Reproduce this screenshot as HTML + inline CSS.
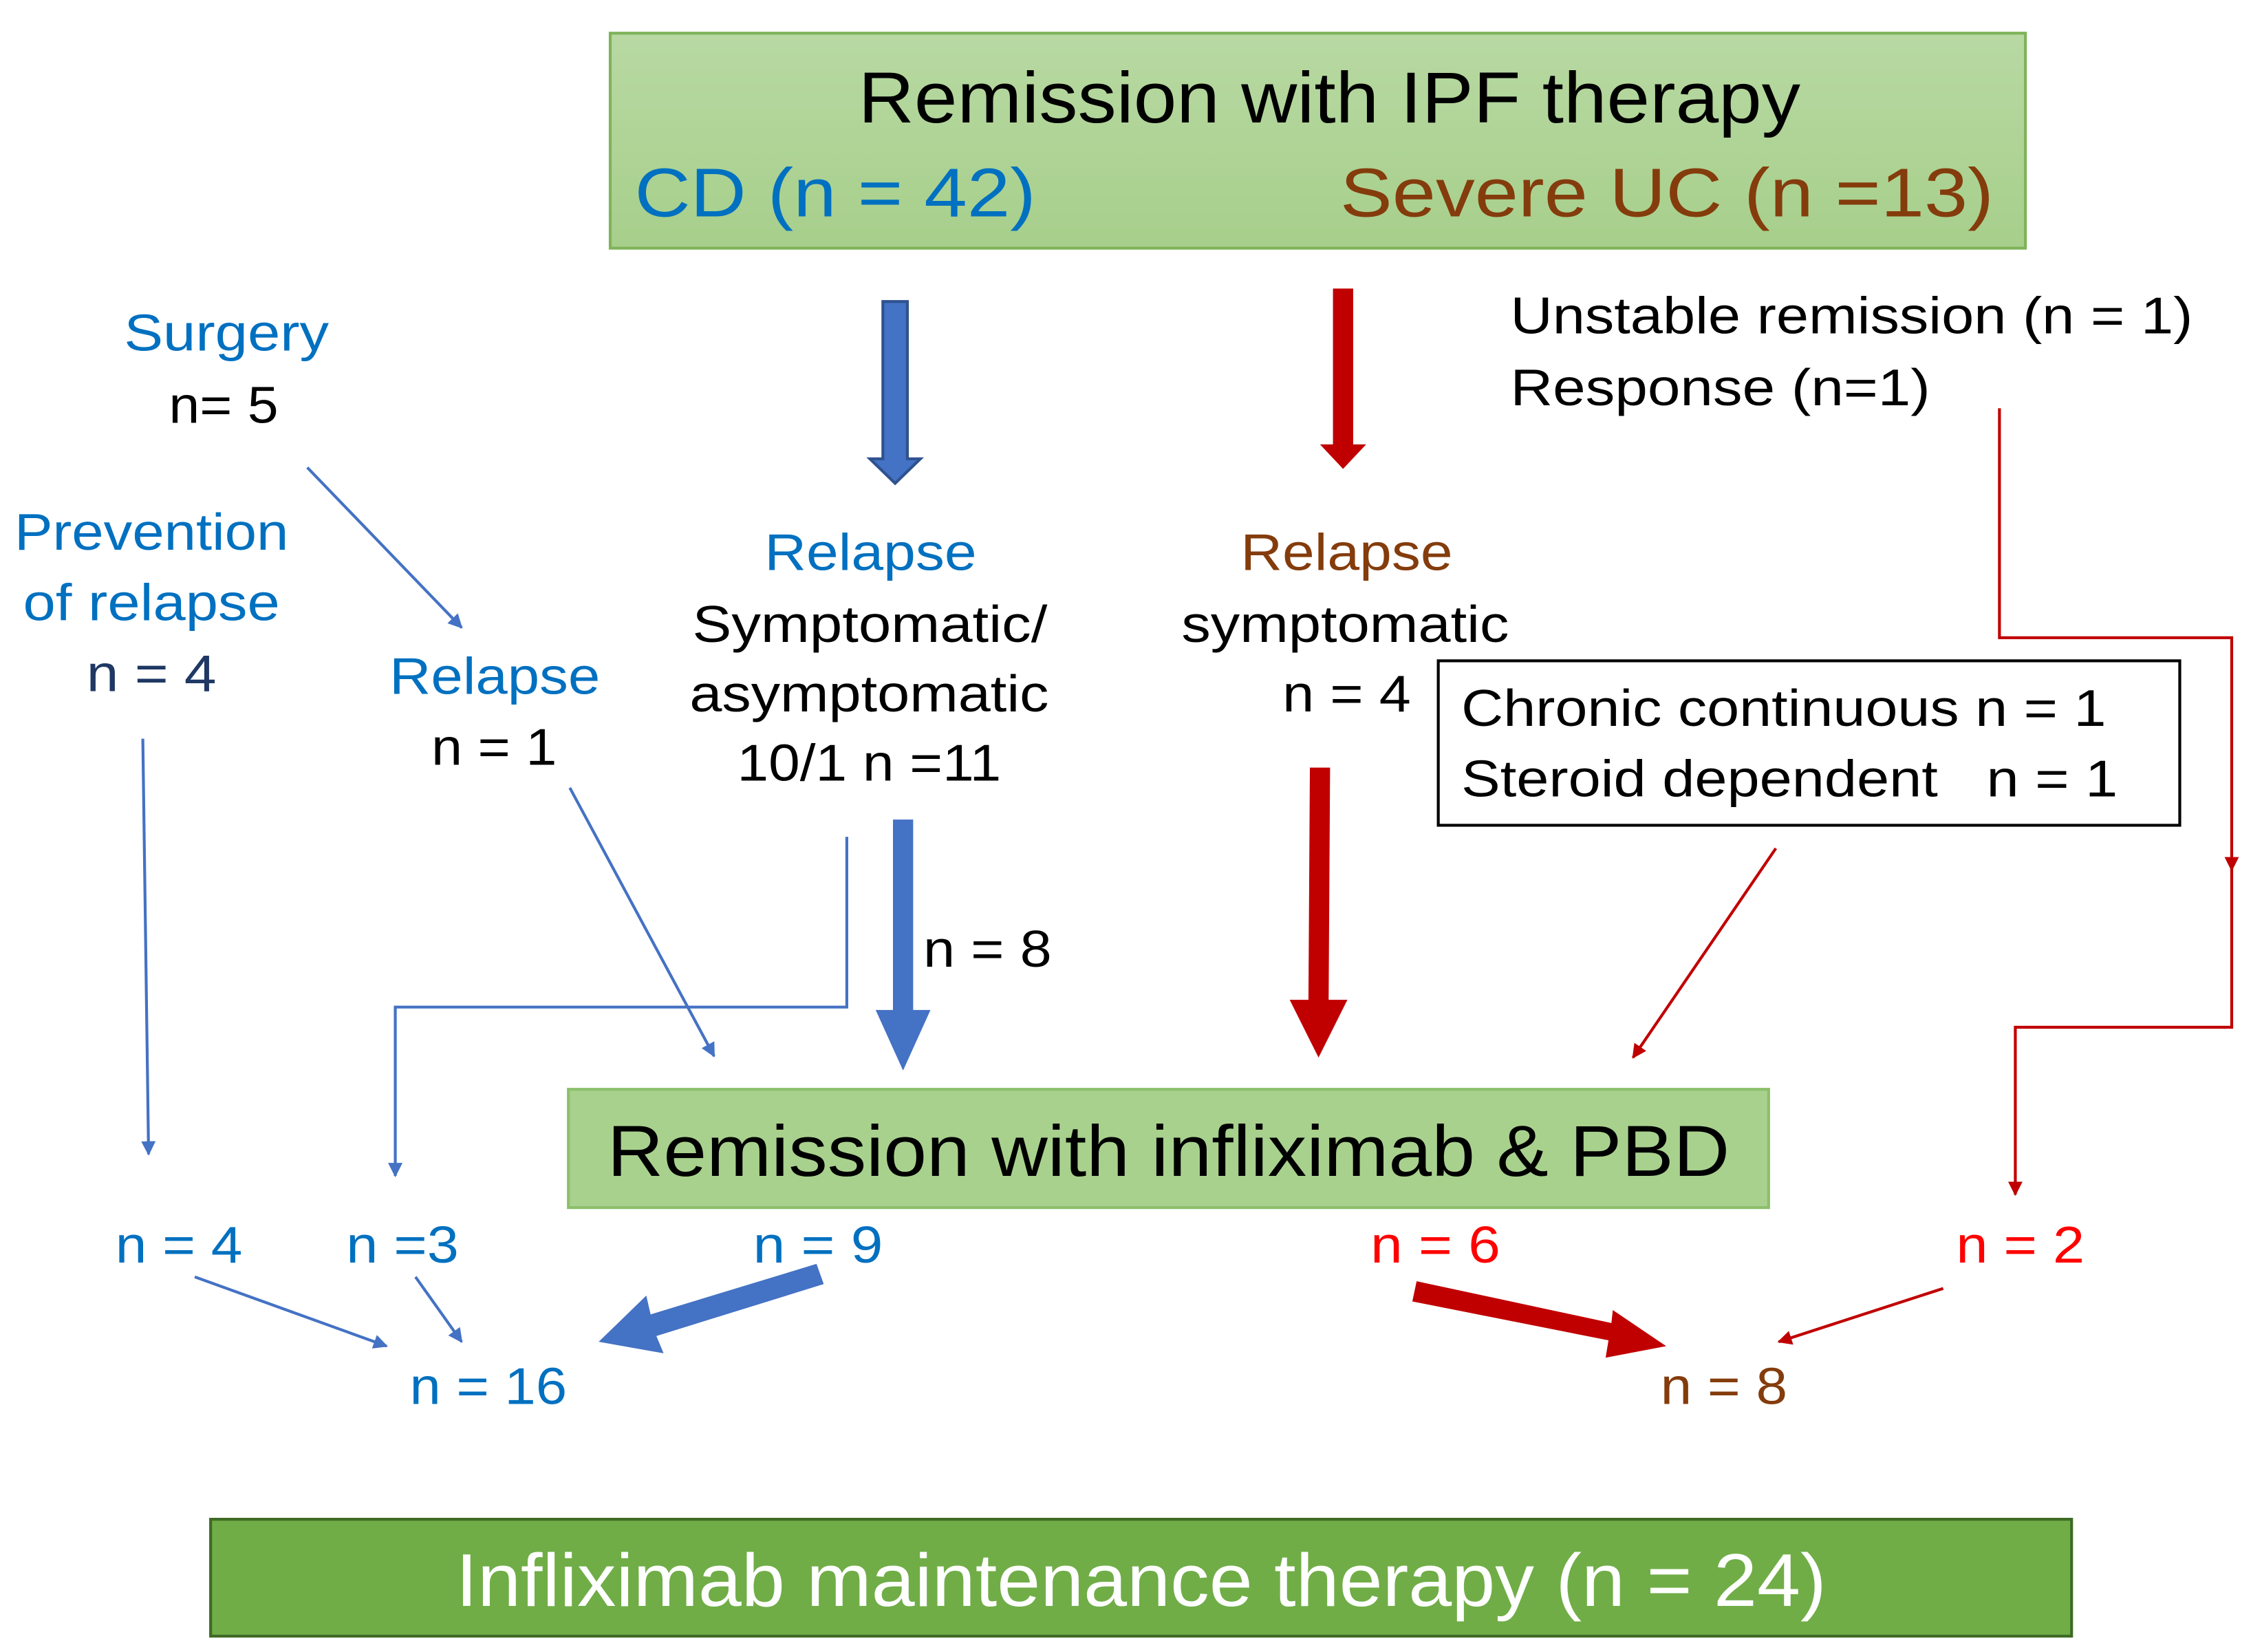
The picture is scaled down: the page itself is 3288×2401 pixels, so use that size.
<!DOCTYPE html>
<html><head><meta charset="utf-8"><style>
html,body{margin:0;padding:0;background:#fff}
svg{display:block}
text{font-family:"Liberation Sans",sans-serif}
</style></head><body>
<svg width="3288" height="2401" viewBox="0 0 1568 1145" preserveAspectRatio="none" xmlns="http://www.w3.org/2000/svg">
<defs>
<linearGradient id="g1" x1="0" y1="0" x2="0" y2="1"><stop offset="0" stop-color="#b8d9a3"/><stop offset="1" stop-color="#a7cf8b"/></linearGradient>
<marker id="ab" markerWidth="10" markerHeight="10" refX="9" refY="5" orient="auto" markerUnits="userSpaceOnUse" viewBox="0 0 10 10"><path d="M0,0 L10,5 L0,10 z" fill="#4472c4"/></marker>
<marker id="ar" markerWidth="10" markerHeight="10" refX="9" refY="5" orient="auto" markerUnits="userSpaceOnUse" viewBox="0 0 10 10"><path d="M0,0 L10,5 L0,10 z" fill="#c00000"/></marker>
</defs>
<rect x="0" y="0" width="1568" height="1145" fill="#fff"/>
<rect x="423" y="23" width="981" height="149" fill="url(#g1)" stroke="#7fb35a" stroke-width="2"/>
<g lengthAdjust="spacingAndGlyphs">
<text x="595" y="85" font-size="50" fill="#000" textLength="653" lengthAdjust="spacingAndGlyphs">Remission with IPF therapy</text>
<text x="440" y="150" font-size="48" fill="#0070c0" textLength="278" lengthAdjust="spacingAndGlyphs">CD (n = 42)</text>
<text x="929" y="150" font-size="48" fill="#843c0c" textLength="453" lengthAdjust="spacingAndGlyphs">Severe UC (n =13)</text>
</g>
<path d="M612,209 L629,209 L629,318 L638,318 L620.5,335 L603,318 L612,318 z" fill="#4472c4" stroke="#2f528f" stroke-width="2"/>
<path d="M924,200 L938,200 L938,308 L947,308 L931,325 L915,308 L924,308 z" fill="#c00000"/>
<text x="1047" y="231" font-size="36" fill="#000" textLength="473" lengthAdjust="spacingAndGlyphs">Unstable remission (n = 1)</text>
<text x="1047" y="281" font-size="36" fill="#000" textLength="291" lengthAdjust="spacingAndGlyphs">Response (n=1)</text>
<text x="86" y="243" font-size="36" fill="#0070c0" textLength="142" lengthAdjust="spacingAndGlyphs">Surgery</text>
<text x="117" y="293" font-size="36" fill="#000" textLength="76" lengthAdjust="spacingAndGlyphs">n= 5</text>
<text x="10" y="381" font-size="36" fill="#0070c0" textLength="190" lengthAdjust="spacingAndGlyphs">Prevention</text>
<text x="16" y="430" font-size="36" fill="#0070c0" textLength="178" lengthAdjust="spacingAndGlyphs">of relapse</text>
<text x="60" y="479" font-size="36" fill="#1f3864" textLength="90" lengthAdjust="spacingAndGlyphs">n = 4</text>
<text x="270" y="481" font-size="36" fill="#0070c0" textLength="146" lengthAdjust="spacingAndGlyphs">Relapse</text>
<text x="299" y="530" font-size="36" fill="#000" textLength="87" lengthAdjust="spacingAndGlyphs">n = 1</text>
<text x="530" y="395" font-size="36" fill="#0070c0" textLength="147" lengthAdjust="spacingAndGlyphs">Relapse</text>
<text x="480" y="445" font-size="36" fill="#000" textLength="246" lengthAdjust="spacingAndGlyphs">Symptomatic/</text>
<text x="478" y="493" font-size="36" fill="#000" textLength="249" lengthAdjust="spacingAndGlyphs">asymptomatic</text>
<text x="511" y="541" font-size="36" fill="#000" textLength="183" lengthAdjust="spacingAndGlyphs">10/1 n =11</text>
<text x="860" y="395" font-size="36" fill="#843c0c" textLength="147" lengthAdjust="spacingAndGlyphs">Relapse</text>
<text x="819" y="445" font-size="36" fill="#000" textLength="227" lengthAdjust="spacingAndGlyphs">symptomatic</text>
<text x="889" y="493" font-size="36" fill="#000" textLength="89" lengthAdjust="spacingAndGlyphs">n = 4</text>
<rect x="997" y="458" width="514" height="114" fill="#fff" stroke="#000" stroke-width="2"/>
<text x="1013" y="503" font-size="36" fill="#000" textLength="447" lengthAdjust="spacingAndGlyphs">Chronic continuous n = 1</text>
<text x="1013" y="552" font-size="36" fill="#000" xml:space="preserve" textLength="455" lengthAdjust="spacingAndGlyphs">Steroid dependent   n = 1</text>
<line x1="213" y1="324" x2="320" y2="435" stroke="#4472c4" stroke-width="2" marker-end="url(#ab)"/>
<line x1="99" y1="512" x2="103" y2="800" stroke="#4472c4" stroke-width="2" marker-end="url(#ab)"/>
<polyline points="587,580 587,698 274,698 274,815" fill="none" stroke="#4472c4" stroke-width="2" marker-end="url(#ab)"/>
<line x1="395" y1="546" x2="495" y2="732" stroke="#4472c4" stroke-width="2" marker-end="url(#ab)"/>
<polyline points="1386,283 1386,442 1547,442 1547,603" fill="none" stroke="#c00000" stroke-width="2" marker-end="url(#ar)"/>
<polyline points="1547,600 1547,712 1397,712 1397,828" fill="none" stroke="#c00000" stroke-width="2" marker-end="url(#ar)"/>
<line x1="1231" y1="588" x2="1132" y2="733" stroke="#c00000" stroke-width="2" marker-end="url(#ar)"/>
<path d="M619,568 L633,568 L633,700 L645,700 L626,742 L607,700 L619,700 z" fill="#4472c4"/>
<text x="640" y="670" font-size="36" fill="#000" textLength="89" lengthAdjust="spacingAndGlyphs">n = 8</text>
<path d="M908,532 L922,532 L921,693 L934,693 L914,733 L894,693 L907,693 z" fill="#c00000"/>
<rect x="394" y="755" width="832" height="82" fill="#a9d18e" stroke="#8cbf6b" stroke-width="2"/>
<text x="421" y="815" font-size="50" fill="#000" textLength="778" lengthAdjust="spacingAndGlyphs">Remission with infliximab &amp; PBD</text>
<text x="80" y="875" font-size="36" fill="#0070c0" textLength="88" lengthAdjust="spacingAndGlyphs">n = 4</text>
<text x="240" y="875" font-size="36" fill="#0070c0" textLength="78" lengthAdjust="spacingAndGlyphs">n =3</text>
<text x="522" y="875" font-size="36" fill="#0070c0" textLength="90" lengthAdjust="spacingAndGlyphs">n = 9</text>
<text x="950" y="875" font-size="36" fill="#ff0000" textLength="90" lengthAdjust="spacingAndGlyphs">n = 6</text>
<text x="1356" y="875" font-size="36" fill="#ff0000" textLength="89" lengthAdjust="spacingAndGlyphs">n = 2</text>
<line x1="135" y1="885" x2="268" y2="933" stroke="#4472c4" stroke-width="2" marker-end="url(#ab)"/>
<line x1="288" y1="885" x2="320" y2="930" stroke="#4472c4" stroke-width="2" marker-end="url(#ab)"/>
<path d="M566,876 L571,890 L455,926 L460,938 L415,930 L448,898 L451,911 z" fill="#4472c4"/>
<path d="M982,888 L979,902 L1115,929 L1113,941 L1155,933 L1118,908 L1117,917 z" fill="#c00000"/>
<line x1="1347" y1="893" x2="1233" y2="930" stroke="#c00000" stroke-width="2" marker-end="url(#ar)"/>
<text x="284" y="973" font-size="36" fill="#0070c0" textLength="109" lengthAdjust="spacingAndGlyphs">n = 16</text>
<text x="1151" y="973" font-size="36" fill="#843c0c" textLength="88" lengthAdjust="spacingAndGlyphs">n = 8</text>
<rect x="146" y="1053" width="1290" height="81" fill="#70ad47" stroke="#3e6b24" stroke-width="2"/>
<text x="316" y="1113" font-size="52" fill="#fff" textLength="950" lengthAdjust="spacingAndGlyphs">Infliximab maintenance therapy (n = 24)</text>
</svg>
</body></html>
